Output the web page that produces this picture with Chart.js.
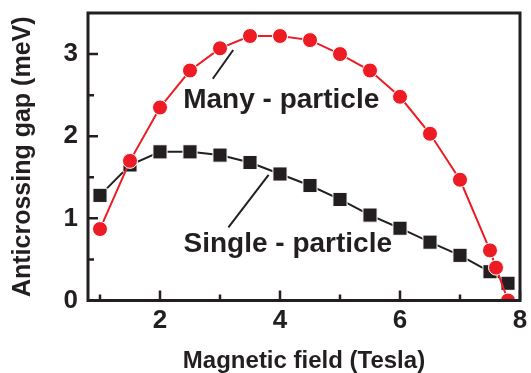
<!DOCTYPE html>
<html>
<head>
<meta charset="utf-8">
<script src="https://cdn.jsdelivr.net/npm/chart.js@4/dist/chart.umd.min.js"></script>
<style>
  html, body { margin: 0; padding: 0; background: #fff; }
  #wrap { width: 531px; height: 373px; }
</style>
</head>
<body>
<div id="wrap"><canvas id="c"></canvas></div>
<script>
// Magnetic field (Tesla) vs anticrossing gap (meV)
const fieldMany   = [1, 1.5, 2, 2.5, 3, 3.5, 4, 4.5, 5, 5.5, 6, 6.5, 7, 7.5, 7.6, 7.8];
const gapMany     = [0.87, 1.70, 2.35, 2.80, 3.07, 3.22, 3.22, 3.17, 3.00, 2.80, 2.48, 2.03, 1.47, 0.61, 0.40, 0.00];
const fieldSingle = [1, 1.5, 2, 2.5, 3, 3.5, 4, 4.5, 5, 5.5, 6, 6.5, 7, 7.5, 7.8];
const gapSingle   = [1.28, 1.65, 1.81, 1.81, 1.77, 1.68, 1.54, 1.40, 1.23, 1.04, 0.88, 0.71, 0.55, 0.35, 0.21];

const xTickLabels = [2, 4, 6, 8];
const xMinorTicks = [1, 3, 5, 7];
const yTickLabels = [0, 1, 2, 3];
const yMinorTicks = [0.5, 1.5, 2.5];

// text labels with leader lines, in data units
const notes = [
    { text: "Many - particle",   x: 4.02, y: 2.34, from: [2.88, 2.70], to: [3.22, 3.05] },
    { text: "Single - particle", x: 4.13, y: 0.59, from: [3.14, 0.89], to: [3.81, 1.53] }
];

const INK = "#231f20";
const RED = "#ed1c24";
const FONT = "'Liberation Sans', Arial, sans-serif";

// ── frame, inward ticks and annotations ───────────────────────────────────────
const framePlugin = {
    id: "frame",
    afterDatasetsDraw(chart) {
        const { ctx, chartArea: a, scales: { x, y } } = chart;
        ctx.save();
        ctx.strokeStyle = INK;
        ctx.lineWidth = 2.5;
        ctx.beginPath();
        const tick = (list, len) => {
            list.forEach(v => {
                const px = x.getPixelForValue(v);
                ctx.moveTo(px, a.bottom); ctx.lineTo(px, a.bottom - len);
            });
        };
        const ytick = (list, len) => {
            list.forEach(v => {
                const py = y.getPixelForValue(v);
                ctx.moveTo(a.left, py); ctx.lineTo(a.left + len, py);
            });
        };
        tick(xTickLabels, 10);
        tick(xMinorTicks, 6);
        ytick(yTickLabels, 10);
        ytick(yMinorTicks, 6);
        ctx.stroke();

        ctx.lineWidth = 3;
        ctx.strokeRect(a.left, a.top, a.right - a.left, a.bottom - a.top);

        ctx.lineWidth = 2;
        ctx.fillStyle = INK;
        ctx.font = "bold 28px " + FONT;
        ctx.textAlign = "center";
        ctx.textBaseline = "alphabetic";
        notes.forEach(n => {
            ctx.beginPath();
            ctx.moveTo(x.getPixelForValue(n.from[0]), y.getPixelForValue(n.from[1]));
            ctx.lineTo(x.getPixelForValue(n.to[0]), y.getPixelForValue(n.to[1]));
            ctx.stroke();
            ctx.fillText(n.text, x.getPixelForValue(n.x), y.getPixelForValue(n.y));
        });
        ctx.restore();
    }
};

new Chart(document.getElementById("c").getContext("2d"), {
    type: "line",
    data: {
        datasets: [
            {
                label: "Many - particle",
                data: fieldMany.map((f, i) => ({ x: f, y: gapMany[i] })),
                borderColor: RED,
                borderWidth: 2,
                pointStyle: "circle",
                pointRadius: 7.5,
                pointBackgroundColor: RED,
                pointBorderColor: "#fff",
                pointBorderWidth: 1,
                tension: 0
            },
            {
                label: "Single - particle",
                data: fieldSingle.map((f, i) => ({ x: f, y: gapSingle[i] })),
                borderColor: INK,
                borderWidth: 2,
                pointStyle: "rect",
                pointRadius: 10,
                pointBackgroundColor: INK,
                pointBorderColor: "#fff",
                pointBorderWidth: 1,
                tension: 0
            }
        ]
    },
    options: {
        responsive: true,
        maintainAspectRatio: false,
        animation: false,
        layout: { padding: { top: 13, right: 5.7, left: 0, bottom: 0 } },
        plugins: { legend: { display: false }, tooltip: { enabled: false } },
        scales: {
            x: {
                type: "linear",
                min: 0.8,
                max: 8,
                grid: { display: false, drawTicks: false },
                border: { display: false },
                afterBuildTicks: s => { s.ticks = xTickLabels.map(v => ({ value: v })); },
                afterFit: s => { s.height = 72.5; s.paddingLeft = 0; s.paddingRight = 0; },
                ticks: { padding: 5, color: INK, maxRotation: 0, autoSkip: false,
                         font: { family: FONT, size: 26, weight: "bold" } },
                title: { display: true, text: "Magnetic field (Tesla)", color: INK,
                         font: { family: FONT, size: 24, weight: "bold", lineHeight: 1 },
                         padding: { top: 0, bottom: 0 } }
            },
            y: {
                type: "linear",
                min: 0,
                max: 3.5,
                grid: { display: false, drawTicks: false },
                border: { display: false },
                afterBuildTicks: s => { s.ticks = yTickLabels.map(v => ({ value: v })); },
                afterFit: s => { s.width = 88; s.paddingTop = 0; s.paddingBottom = 0; },
                ticks: { padding: 10, color: INK, autoSkip: false,
                         font: { family: FONT, size: 26, weight: "bold" } },
                title: { display: true, text: "Anticrossing gap (meV)", color: INK,
                         font: { family: FONT, size: 25, weight: "bold", lineHeight: 1 },
                         padding: { top: 11, bottom: 0 } }
            }
        }
    },
    plugins: [framePlugin]
});
</script>
</body>
</html>
